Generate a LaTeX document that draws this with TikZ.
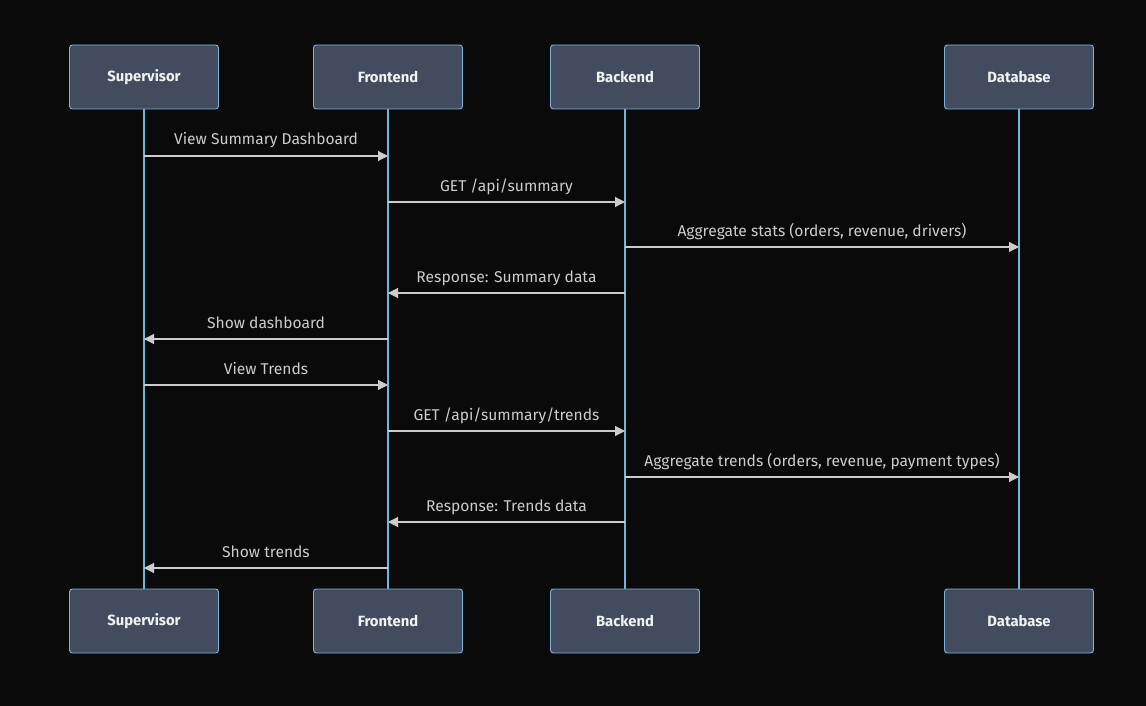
\documentclass[tikz,border=0pt]{standalone}
\usepackage{fontspec}
\setmainfont{Fira Sans}
\usepackage{xcolor}
\usetikzlibrary{arrows.meta, positioning, calc}
\definecolor{bgdark}{HTML}{0A0A0A}
\definecolor{actorfill}{HTML}{434C5E}
\definecolor{actorline}{HTML}{7FB3D5}
\definecolor{lifeline}{HTML}{6CB8D8}
\definecolor{msgline}{HTML}{CCCCCC}

\begin{document}
\begin{tikzpicture}[x=1pt,y=-1pt,font=\fontsize{15.6}{18}\selectfont,
  actor/.style={draw=actorline, fill=actorfill, line width=0.9pt, rounded corners=3pt,
    minimum width=149pt, minimum height=64pt, text=white!90!gray, font=\fontsize{14.8}{17}\selectfont\bfseries},
  life/.style={draw=lifeline, line width=1.8pt},
  msg/.style={draw=msgline, line width=1.1pt, -{Triangle[length=10pt,width=10pt]}},
  lbl/.style={text=msgline, anchor=base, yshift=11pt, inner sep=0pt}]
% background
\fill[bgdark] (0,0) rectangle (1146,706);
\useasboundingbox (0,0) rectangle (1146,706);
% actors (top)
\node[actor] (sup) at (144,77) {Supervisor};
\node[actor] (fe) at (388,77) {Frontend};
\node[actor] (be) at (625,77) {Backend};
\node[actor] (db) at (1019,77) {Database};
% actors (bottom)
\node[actor] (sup-b) at (144,621) {Supervisor};
\node[actor] (fe-b) at (388,621) {Frontend};
\node[actor] (be-b) at (625,621) {Backend};
\node[actor] (db-b) at (1019,621) {Database};
% lifelines
\foreach \a in {sup,fe,be,db}{\draw[life] (\a.south) -- (\a-b.north);}
% messages
\foreach \y/\s/\t/\txt [count=\i] in {
  156/sup/fe/{View Summary Dashboard},
  202/fe/be/{GET /api/summary},
  247/be/db/{Aggregate stats (orders, revenue, drivers)},
  293/be/fe/{Response: Summary data},
  339/fe/sup/{Show dashboard},
  385/sup/fe/{View Trends},
  431/fe/be/{GET /api/summary/trends},
  477/be/db/{Aggregate trends (orders, revenue, payment types)},
  522/be/fe/{Response: Trends data},
  568/fe/sup/{Show trends}}{
  \coordinate (m\i-s) at (\s |- 0,\y);
  \coordinate (m\i-t) at (\t |- 0,\y);
  \draw[msg] (m\i-s) -- node[lbl] {\txt} (m\i-t);
}
\end{tikzpicture}
\end{document}
